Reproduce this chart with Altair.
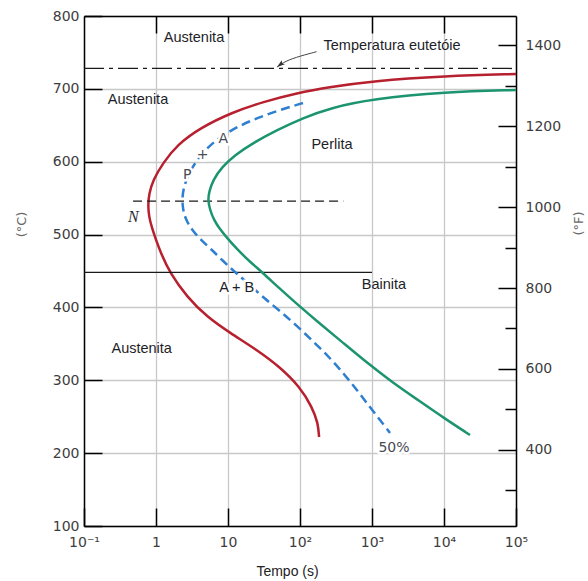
import altair as alt
import pandas as pd

# ---------------- data ----------------
x_ticks = [0.1, 1, 10, 100, 1000, 10000, 100000]
x_tick_labels = ["10⁻¹", "1", "10", "10²", "10³", "10⁴", "10⁵"]
top_ticks = [1, 10, 100, 1000, 10000]
c_ticks = [100, 200, 300, 400, 500, 600, 700, 800]
f_ticks = [300, 400, 500, 600, 700, 800, 900, 1000, 1100, 1200, 1300, 1400]

# start of transformation (red)
red_t = [100000, 10330, 1000, 261, 90.9, 30.6, 11.7, 4.08, 1.96, 1.25, 0.909, 0.80, 0.774,
         0.80, 0.88, 1.0, 1.17, 1.56, 2.70, 5.11, 10.7, 25.3, 52.7, 100, 147, 178, 184]
red_c = [720.4, 717.6, 710.8, 702.5, 694.3, 682, 668.2, 646.3, 622.9, 598.2, 574.9, 555.7, 540.6,
         524.1, 509, 492.6, 474.7, 447.3, 414.3, 386.9, 364.9, 341.6, 318.2, 290.8, 263.3, 241.4, 222.2]

# 50 % transformation (blue dashed)
blue_t = [110, 52.7, 25.3, 13.3, 7.74, 5.11, 3.71, 2.87, 2.45, 2.30, 2.37, 2.61, 3.16, 4.22,
          5.81, 8.53, 12.9, 20.2, 31.6, 52.7, 90.9, 156, 261, 408, 619, 908, 1292, 1778]
blue_c = [680.6, 671, 660, 647.6, 633.9, 618.8, 602.4, 584.5, 566.7, 550.2, 533.7, 520, 506.3, 492.6,
          480.2, 463.7, 447.3, 430.8, 412.9, 395.1, 374.5, 352.5, 330.6, 308.6, 286.7, 264.7, 245.5, 227.7]

# end of transformation (green)
green_t = [100000, 10330, 1000, 261, 110, 48.0, 22.2, 12.5, 8.25, 6.19, 5.45, 5.27, 5.62, 6.39,
           7.50, 9.69, 13.3, 19.6, 30.6, 51.1, 90.9, 178, 371, 825, 1896, 4355, 10000, 22960]
green_c = [698.4, 695.7, 686.1, 673.7, 660, 643.5, 625.7, 609.2, 592.7, 574.9, 558.4, 547.5, 533.7, 520,
           509, 495.3, 480.2, 463.7, 447.3, 426.7, 404.7, 380, 353.9, 325.1, 297.6, 272.9, 248.2, 224.9]

# horizontal reference lines
eut_c = 728
eut_t = [0.1, 100000]
nose_c = 546
nose_t = [0.48, 400]
bain_c = 448
bain_t = [0.1, 1000]

# region labels
region_text = ["Austenita", "Temperatura eutetóie", "Austenita", "Perlita", "A + B", "Bainita", "Austenita"]
region_t = [3.37, 1896, 0.562, 278, 13.2, 1468, 0.633]
region_c = [770, 759, 685, 623, 426, 431, 342.5]

small_text = ["A", "+", "P", "50%"]
small_t = [8.6, 4.45, 2.72, 2021]
small_c = [631, 609, 582, 206.6]

n_text = ["N"]
n_t = [0.484]
n_c = [524.5]

arrow_t = [170, 100, 62, 48]
arrow_c = [751, 745, 738, 730]

# ---------------- chart ----------------
xscale = alt.Scale(type="log", domain=[0.1, 100000], nice=False)
cscale = alt.Scale(domain=[100, 800], nice=False, zero=False)

label_js = "[" + ",".join("'" + s + "'" for s in x_tick_labels) + "][round(log(datum.value)/LN10)+1]"
f_as_c = [(f - 32) / 1.8 for f in f_ticks]
f_expr = "round(datum.value * 9 / 5 + 32)"

x_bottom = alt.Axis(
    orient="bottom", values=x_ticks, labelExpr=label_js, grid=True, tickSize={"expr": "-18"},
    labelPadding=27, labelFlush=False, labelOverlap=False,
    title="Tempo (s)", titleX=203, titleY=45, titleAlign="center", titleBaseline="middle",
    titleFontSize=14, titleColor="#222222", titleFont="Liberation Sans",
)
y_left = alt.Axis(
    orient="left", values=c_ticks, grid=True, tickSize={"expr": "-18"}, labelPadding=23,
    labelOverlap=False,
    title="(°C)", titleX=-63, titleY=208, titleAngle=270, titleAlign="center",
    titleBaseline="middle", titleFontSize=13, titleColor="#666666",
)
x_top = alt.Axis(orient="top", values=top_ticks, labels=False, grid=False,
                 tickSize={"expr": "-17"}, title=None)
y_right = alt.Axis(
    orient="right", values=f_as_c, grid=False, tickSize={"expr": "-18"},
    tickDash={"condition": {"test": f_expr + " % 200 != 0", "value": [11, 40]}, "value": [40, 0]},
    labelExpr=f_expr + " % 200 == 0 ? '' + " + f_expr + " : ''",
    labelPadding=27, labelOverlap=False,
    title="(°F)", titleX=62, titleY=207, titleAngle=270, titleAlign="center",
    titleBaseline="middle", titleFontSize=13, titleColor="#666666",
)


def curve_df(t, c):
    return pd.DataFrame({"t": t, "c": c, "i": list(range(len(t)))})


def X(field="t:Q", axis=None):
    return alt.X(field, scale=xscale, axis=axis)


def Y(field="c:Q", axis=None):
    return alt.Y(field, scale=cscale, axis=axis)


red = alt.Chart(curve_df(red_t, red_c)).mark_line(
    color="#b7202e", strokeWidth=2.5, interpolate="basis"
).encode(x=X(axis=x_bottom), y=Y(axis=y_left), order="i:Q")

blue = alt.Chart(curve_df(blue_t, blue_c)).mark_line(
    color="#2f7fd0", strokeWidth=2.5, interpolate="basis", strokeDash=[9, 5]
).encode(x=X(), y=Y(), order="i:Q")

green = alt.Chart(curve_df(green_t, green_c)).mark_line(
    color="#1c9470", strokeWidth=2.5, interpolate="basis"
).encode(x=X(), y=Y(), order="i:Q")


def hline(trange, c, xaxis=None, yaxis=None, **kw):
    df = pd.DataFrame({"t1": [trange[0]], "t2": [trange[1]], "c": [c]})
    return alt.Chart(df).mark_rule(color="#1a1a1a", strokeWidth=1.3, **kw).encode(
        x=X("t1:Q", xaxis), x2="t2:Q", y=Y("c:Q", yaxis)
    )


nose = hline(nose_t, nose_c, strokeDash=[9, 5])
bain = hline(bain_t, bain_c)
eut = hline(eut_t, eut_c, xaxis=x_top, yaxis=y_right, strokeDash=[20, 5, 4, 5])

region_df = pd.DataFrame({"t": region_t, "c": region_c, "s": region_text})
small_df = pd.DataFrame({"t": small_t, "c": small_c, "s": small_text})

region_halo = alt.Chart(region_df).transform_filter("datum.s == 'A + B'").mark_text(
    font="Liberation Sans", fontSize=14.5, fill="white", stroke="white", strokeWidth=5,
    align="center", baseline="middle"
).encode(x=X(), y=Y(), text="s:N")

regions = alt.Chart(region_df).mark_text(
    font="Liberation Sans", fontSize=14.5, color="#1e1e28", align="center", baseline="middle"
).encode(x=X(), y=Y(), text="s:N")

small_halo = alt.Chart(small_df).mark_text(
    font="DejaVu Sans", fontSize=14, fill="white", stroke="white", strokeWidth=5,
    align="center", baseline="middle"
).encode(x=X(), y=Y(), text="s:N")

smalls = alt.Chart(small_df).mark_text(
    font="DejaVu Sans", fontSize=14, color="#4a4a55", align="center", baseline="middle"
).encode(x=X(), y=Y(), text="s:N")

nlab = alt.Chart(pd.DataFrame({"t": n_t, "c": n_c, "s": n_text})).mark_text(
    font="Liberation Serif", fontSize=16, fontStyle="italic", color="#2a2a35",
    align="center", baseline="middle"
).encode(x=X(), y=Y(), text="s:N")

arrow_df = pd.DataFrame({"t": arrow_t, "c": arrow_c, "i": list(range(len(arrow_t)))})
arrow = alt.Chart(arrow_df).mark_line(color="#444444", strokeWidth=1, interpolate="basis").encode(
    x=X(), y=Y(), order="i:Q"
)
head = alt.Chart(pd.DataFrame({"t": arrow_t[-1:], "c": arrow_c[-1:]})).mark_point(
    shape="M0,0L-0.5,1.5L0,1.2L0.5,1.5Z", size=110, angle=233, filled=True,
    color="#333333", opacity=1
).encode(x=X(), y=Y())

chart = alt.layer(
    red, eut, bain, nose, blue, green, region_halo, small_halo, regions, smalls, nlab, arrow, head
).resolve_axis(
    x="independent", y="independent"
).properties(
    width=432, height=510,
    autosize=alt.AutoSizeParams(type="none"),
    padding={"left": 84, "top": 16, "right": 72, "bottom": 55},
).configure_view(
    stroke=None
).configure_axis(
    domainColor="black", domainWidth=1.5,
    tickColor="black", tickWidth=1.5,
    gridColor="#c8c8c8", gridWidth=1.3,
    labelFont="DejaVu Sans", labelFontSize=14, labelColor="#3d3d3d",
    titleFont="DejaVu Sans", titleFontWeight="normal",
)

chart.save("out.html", embed_options={"renderer": "svg", "actions": False})
